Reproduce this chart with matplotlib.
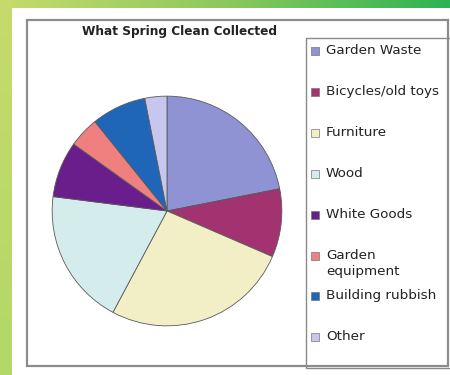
import matplotlib
matplotlib.use("Agg")
import matplotlib.pyplot as plt
import numpy as np
from matplotlib.patches import Rectangle
from matplotlib.colors import LinearSegmentedColormap

title = "What Spring Clean Collected"
categories = ["Garden Waste", "Bicycles/old toys", "Furniture", "Wood",
              "White Goods", "Garden\nequipment", "Building rubbish", "Other"]
values = [21.9, 9.6, 26.3, 19.2, 7.9, 4.3, 7.7, 3.1]
colors = ["#8f93d3", "#a23370", "#f2efc6", "#d5ecec",
          "#6a1e8c", "#f08080", "#1f66b8", "#c6c6ee"]

W, H = 450, 375
fig = plt.figure(figsize=(W / 100, H / 100), dpi=100)
fig.patch.set_facecolor("white")

def fx(px): return px / W
def fy(py): return 1 - py / H

# green gradient bands
bg = fig.add_axes([0, 0, 1, 1], zorder=0)
bg.axis("off")
grad = np.linspace(0, 1, 256).reshape(1, -1)
cm_top = LinearSegmentedColormap.from_list("t", ["#c6db6c", "#8cc85e", "#2db352"])
bg.imshow(grad, cmap=cm_top, extent=[0, W, 8, 0], aspect="auto")
cm_left = LinearSegmentedColormap.from_list("l", ["#c6db6c", "#b2d867"])
bg.imshow(grad.T, cmap=cm_left, extent=[0, 12, H, 0], aspect="auto")
bg.set_xlim(0, W); bg.set_ylim(H, 0)

# chart frame
bg.add_patch(Rectangle((27, 20), 421, 346, fill=False, edgecolor="#8c8c8c", lw=1.6))
# legend box
bg.add_patch(Rectangle((306, 38), 150, 330, fill=False, edgecolor="#8a8a8a", lw=1.0))

# title
fig.text(fx(179), fy(32), title, ha="center", va="center",
         fontsize=8.7, fontweight="bold", family="DejaVu Sans", color="#222222")

# pie
cx, cy, r = 167, 211, 116
ax = fig.add_axes([fx(cx - r), fy(cy + r), 2 * r / W, 2 * r / H], zorder=2)
wedges, _ = ax.pie(values, colors=colors, startangle=90, counterclock=False,
                   radius=1.0,
                   wedgeprops=dict(edgecolor="#5a5a5a", linewidth=0.6))
ax.set_xlim(-1.01, 1.01); ax.set_ylim(-1.01, 1.01)
ax.set_aspect("auto")

# legend entries
ys = [51, 92, 133, 174, 215, 256, 296, 337]
for lab, col, y in zip(categories, colors, ys):
    bg.add_patch(Rectangle((311, y - 4), 8, 8, facecolor=col, edgecolor="#777777", lw=0.5))
    bg.text(326, y - 7, lab, ha="left", va="top", fontsize=9.7,
            family="DejaVu Sans", color="#222222", linespacing=1.32)

fig.savefig("out.png", dpi=100)
